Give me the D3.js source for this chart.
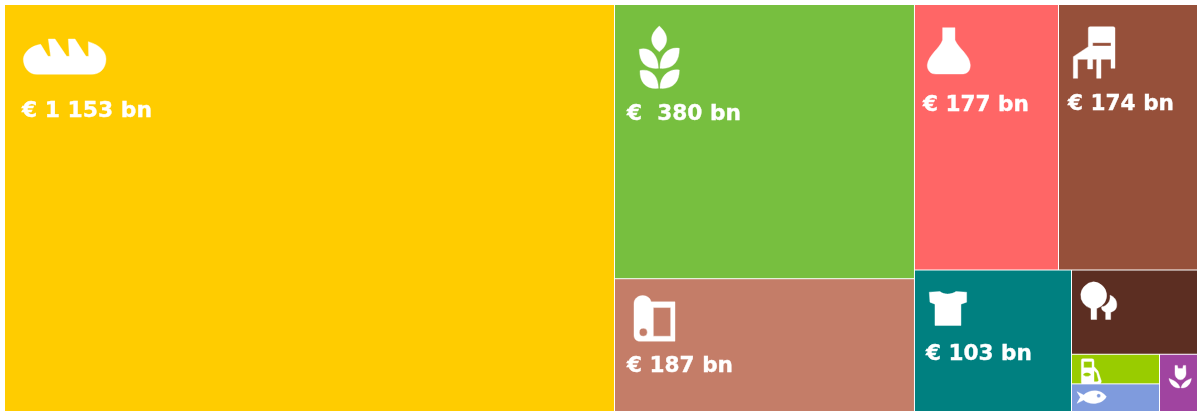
<!DOCTYPE html>
<html><head><meta charset="utf-8">
<script src="https://cdn.jsdelivr.net/npm/d3@7/dist/d3.min.js"></script>
<style>html,body{margin:0;padding:0;background:#fff;overflow:hidden}svg{display:block}
text{font-family:"DejaVu Sans",sans-serif;font-weight:700;fill:#fff;stroke:#fff;stroke-width:.35px;white-space:pre}</style></head>
<body><svg id="c" width="1197" height="411"></svg>
<script>
const categories=["food","cereals","paper","chemicals","furniture","textiles","wood","fuel","fish","flowers"];
const values=[1153,382,185,177.6,171.4,103.2,49.3,12.1,11.3,10.1];
const labels=["€ 1 153 bn","€  380 bn","€ 187 bn","€ 177 bn","€ 174 bn","€ 103 bn","","","",""];
const colors=["#ffcc00","#77bf3f","#c47d68","#ff6666","#96503a","#008080","#5c2e22","#99cc00","#7f9bdd","#a044a0"];
const v=Object.fromEntries(categories.map((c,i)=>[c,values[i]]));
const leaf=n=>({name:n,value:v[n]});
const tree={children:[leaf("food"),
 {children:[leaf("cereals"),leaf("paper")]},
 {children:[{children:[leaf("chemicals"),leaf("furniture")]},
  {children:[leaf("textiles"),{children:[leaf("wood"),{children:[{children:[leaf("fuel"),leaf("fish")]},leaf("flowers")]}]}]}]}]};
const root=d3.hierarchy(tree).sum(d=>d.value||0);
d3.treemap().tile(d3.treemapSliceDice).size([1192,406]).paddingInner(1)(root);
const svg=d3.select("#c");
const defs=svg.append("defs");
defs.append("filter").attr("id","soft").attr("x","-10%").attr("y","-10%").attr("width","120%").attr("height","120%")
 .append("feGaussianBlur").attr("stdDeviation",0.55);
const g=svg.append("g").attr("transform","translate(5,5)");
const cells=g.selectAll("g").data(root.leaves()).join("g").attr("transform",d=>`translate(${d.x0},${d.y0})`);
cells.append("rect").attr("width",d=>d.x1-d.x0).attr("height",d=>d.y1-d.y0)
 .attr("fill",d=>colors[categories.indexOf(d.data.name)]);
const icons={
 food:{o:[15,30],d:"M10 72C12 50 35 32 62 28L84 64L92 64L85 12L105 12L140 64L148 64L145 12L165 12L198 64L206 64L205 20C240 30 258 50 258 72C258 100 240 118 215 118L50 118C25 118 10 95 10 72Z"},
 cereals:{o:[-5,-5],d:"M148 78C165 95 170 105 170 118C170 135 158 148 148 155C138 148 125 135 125 118C125 105 132 92 148 78ZM88 148C115 140 145 160 145 205C105 208 88 185 88 148ZM208 145C180 140 150 160 150 205C190 208 208 185 208 145ZM90 212C120 205 145 225 145 265C105 268 90 245 90 212ZM208 210C180 205 150 225 150 265C190 268 208 245 208 210Z"},
 paper:{o:[-5,-9],d:"M72 100C72 85 85 76 98 76C112 76 122 85 123 95L195 95L195 213L90 213C78 213 72 205 72 195ZM130 112L130 198L182 198L182 112ZM100 174A12 12 0 1 0 100 198A12 12 0 1 0 100 174Z"},
 chemicals:{o:[-5,-5],d:"M98 83L135 83L135 120C145 145 180 165 181 195C181 215 170 222 155 222L78 222C62 222 52 212 52 195C55 165 90 145 98 120Z"},
 furniture:{o:[-149,-5],d:"M535 85Q535 80 540 80L610 80Q615 80 615 85L615 205L603 205L603 178L573 178L573 235L560 235L560 178L548 178L548 207L533 207L533 178L503 178L503 235L490 235L490 170L535 140ZM548 128L603 128L603 138L548 138Z"},
 textiles:{o:[-5,-9],d:"M58 92L90 90C100 100 125 100 138 90L170 92L170 122L153 128L153 192L75 192L75 128L60 122Z"},
 wood:{o:[-7,-6],d:"M85 52A43 41 0 0 1 95 132L95 165L78 165L78 132A43 41 0 0 1 85 52ZM135 92C150 97 157 110 155 125C153 137 145 141 137 143L137 165L122 165L122 143C115 141 108 135 110 127C125 125 138 110 135 92Z"},
 fuel:{o:[0,-1],d:"M32 15L60 15Q66 15 66 22L66 38L78 52L88 82Q88 92 78 92L32 92Q28 92 28 85L28 20Q28 15 32 15ZM35 23L35 42L60 42L60 23ZM33 62C38 54 52 54 57 62C52 70 38 70 33 62ZM66 50L66 84L76 84L80 80L74 58Z"},
 fish:{o:[0,-31],d:"M15 115L35 125C50 110 85 105 103 130C90 155 50 155 35 140L15 150L25 132ZM74 127A6 6 0 1 0 86 127A6 6 0 1 0 74 127Z"},
 flowers:{o:[0,-1],d:"M45 35L52 35L54 44L68 44L70 35L77 35L78 58C78 70 70 78 62 78C52 78 45 70 45 58ZM27 74C40 80 55 85 60 102C45 105 30 92 27 74ZM94 74C80 80 68 85 63 102C78 105 92 92 94 74Z"}
};
const soft=cells.append("g").attr("filter","url(#soft)");
soft.append("path").attr("fill","#fff").attr("fill-rule","evenodd").attr("stroke","#fff").attr("stroke-width",1.2)
 .attr("transform",d=>`translate(${icons[d.data.name].o}) scale(${1/3})`).attr("d",d=>icons[d.data.name].d);
const tpos={food:[17,112],cereals:[12,115],paper:[12,93],chemicals:[8,106],furniture:[9,105],textiles:[11,89]};
const twid={food:130,cereals:114,paper:106,chemicals:106,furniture:106,textiles:106};
soft.filter(d=>labels[categories.indexOf(d.data.name)]).append("text")
 .attr("x",d=>tpos[d.data.name][0]).attr("y",d=>tpos[d.data.name][1])
 .attr("font-size",21).attr("textLength",d=>twid[d.data.name]).attr("lengthAdjust","spacingAndGlyphs")
 .text(d=>labels[categories.indexOf(d.data.name)]);
</script></body></html>
